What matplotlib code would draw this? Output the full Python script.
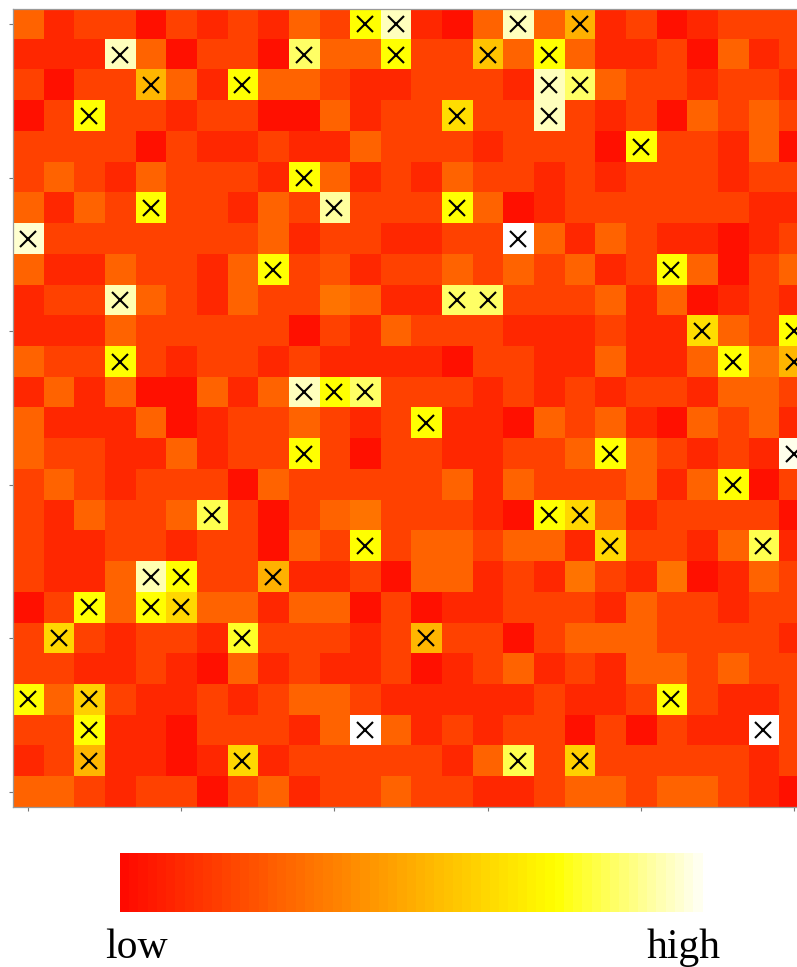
import numpy as np
import matplotlib
matplotlib.use("Agg")
import matplotlib.pyplot as plt
from matplotlib.colors import LinearSegmentedColormap

# cell intensities (0 = low, 100 = high), row 0 is the top row
values = [
    [27, 9, 17, 17, 2, 17, 9, 17, 9, 27, 17, 74, 93, 9, 2, 27, 93, 27, 50, 9, 17, 2, 9, 17, 17, 17],
    [9, 9, 9, 93, 27, 2, 17, 17, 2, 84, 27, 27, 74, 17, 17, 56, 27, 74, 27, 9, 9, 17, 2, 27, 9, 17],
    [17, 2, 17, 17, 52, 27, 9, 74, 27, 27, 17, 9, 9, 17, 17, 17, 9, 93, 84, 27, 17, 17, 9, 17, 17, 9],
    [2, 17, 74, 17, 17, 9, 17, 17, 2, 2, 27, 9, 17, 17, 64, 17, 17, 93, 17, 9, 17, 2, 27, 17, 27, 17],
    [17, 17, 17, 17, 2, 17, 9, 9, 17, 9, 9, 27, 17, 17, 17, 9, 17, 17, 17, 2, 74, 17, 17, 9, 27, 2],
    [17, 27, 17, 9, 27, 17, 17, 17, 9, 74, 27, 9, 17, 9, 27, 17, 17, 9, 17, 9, 17, 17, 17, 9, 17, 17],
    [27, 9, 27, 17, 74, 17, 17, 9, 27, 17, 90, 17, 17, 17, 74, 27, 2, 9, 17, 17, 17, 17, 17, 17, 9, 9],
    [95, 17, 17, 17, 17, 17, 17, 17, 27, 9, 17, 17, 9, 9, 17, 17, 100, 27, 9, 27, 17, 9, 9, 2, 9, 17],
    [27, 9, 9, 27, 17, 17, 9, 27, 74, 17, 22, 9, 17, 17, 27, 17, 27, 17, 27, 9, 17, 74, 27, 2, 17, 27],
    [9, 17, 17, 92, 27, 17, 9, 27, 17, 17, 32, 27, 9, 9, 84, 84, 17, 17, 17, 27, 9, 27, 2, 9, 17, 9],
    [9, 9, 9, 27, 17, 17, 17, 17, 17, 2, 17, 9, 27, 17, 17, 17, 9, 9, 9, 17, 9, 9, 64, 27, 17, 74],
    [27, 17, 17, 74, 17, 9, 17, 17, 9, 17, 9, 9, 9, 9, 2, 17, 17, 9, 9, 27, 9, 9, 27, 74, 32, 52],
    [9, 27, 9, 27, 2, 2, 27, 9, 27, 93, 74, 84, 17, 17, 17, 9, 17, 9, 17, 9, 17, 17, 9, 27, 27, 17],
    [27, 9, 9, 9, 27, 2, 9, 17, 17, 27, 17, 9, 17, 74, 9, 9, 2, 27, 17, 27, 9, 2, 27, 17, 27, 9],
    [27, 17, 17, 9, 9, 27, 9, 17, 17, 74, 17, 2, 17, 17, 9, 9, 17, 17, 27, 74, 27, 17, 9, 17, 9, 98],
    [17, 27, 17, 9, 17, 17, 17, 2, 27, 17, 17, 17, 17, 17, 27, 9, 27, 17, 17, 17, 27, 9, 27, 74, 2, 17],
    [17, 9, 27, 17, 17, 27, 82, 17, 2, 17, 27, 32, 17, 17, 17, 9, 2, 74, 62, 27, 9, 17, 17, 17, 17, 2],
    [17, 9, 9, 17, 17, 9, 17, 17, 2, 27, 17, 74, 17, 27, 27, 17, 27, 27, 9, 62, 17, 17, 9, 27, 82, 9],
    [17, 9, 9, 27, 92, 74, 17, 17, 50, 9, 9, 17, 2, 27, 27, 9, 17, 9, 32, 17, 9, 32, 2, 9, 27, 17],
    [2, 17, 74, 27, 74, 62, 27, 27, 9, 27, 27, 2, 17, 2, 9, 9, 17, 17, 17, 9, 27, 17, 17, 9, 17, 17],
    [17, 62, 17, 9, 17, 17, 9, 78, 17, 17, 17, 9, 17, 52, 17, 17, 2, 17, 27, 27, 27, 17, 17, 17, 17, 9],
    [17, 17, 9, 9, 17, 9, 2, 27, 9, 17, 9, 9, 17, 2, 9, 17, 27, 9, 17, 9, 27, 27, 17, 27, 17, 17],
    [74, 27, 60, 17, 9, 9, 17, 9, 17, 27, 27, 17, 9, 9, 9, 9, 9, 17, 9, 9, 17, 74, 17, 9, 9, 17],
    [17, 17, 74, 9, 9, 2, 17, 17, 17, 9, 27, 100, 27, 9, 17, 9, 17, 17, 2, 17, 2, 17, 9, 9, 100, 17],
    [9, 17, 52, 9, 9, 2, 9, 62, 9, 17, 17, 17, 17, 17, 9, 27, 82, 17, 60, 17, 17, 17, 17, 17, 9, 17],
    [27, 27, 17, 9, 17, 17, 2, 17, 27, 9, 17, 17, 27, 17, 17, 9, 9, 17, 27, 27, 17, 27, 27, 17, 9, 2],
]
mark_threshold = 45
tick_positions = [0, 5, 10, 15, 20, 25]
bar_labels = ["low", "high"]

grid = np.array(values, dtype=float)
cmap = LinearSegmentedColormap.from_list(
    "redyellowwhite", [(0.0, "#ff0a00"), (0.74, "#ffff00"), (1.0, "#ffffff")]
)

fig = plt.figure(figsize=(7.97, 9.67), dpi=100)

# heatmap, slightly wider than the canvas so the last column is cut
ax = fig.add_axes([12.7 / 797, 160.1 / 967, 796.6 / 797, 798.2 / 967])
ax.imshow(grid, cmap=cmap, vmin=0, vmax=100, aspect="auto", interpolation="nearest")

rows, cols = np.nonzero(grid >= mark_threshold)
ax.plot(cols, rows, linestyle="none", marker="x", color="black",
        markersize=11, markeredgewidth=1.5)

ax.set_xticks(tick_positions)
ax.set_yticks(tick_positions)
ax.set_xticklabels([])
ax.set_yticklabels([])
ax.tick_params(direction="out", length=3, width=0.8, color="#777777")
for spine in ax.spines.values():
    spine.set_color("#999999")
    spine.set_linewidth(0.9)

# colour scale strip
cax = fig.add_axes([120 / 797, 55 / 967, 592 / 797, 59 / 967])
steps = np.linspace(0, 100, 64).reshape(1, -1)
cax.imshow(steps, cmap=cmap, vmin=0, vmax=100, aspect="auto", interpolation="nearest")
cax.axis("off")

fig.text(105 / 797, 9 / 967, bar_labels[0], ha="left", va="baseline",
         fontsize=30, family="Liberation Serif")
fig.text(721 / 797, 9 / 967, bar_labels[1], ha="right", va="baseline",
         fontsize=30, family="Liberation Serif")

fig.savefig("out.png", dpi=100)
